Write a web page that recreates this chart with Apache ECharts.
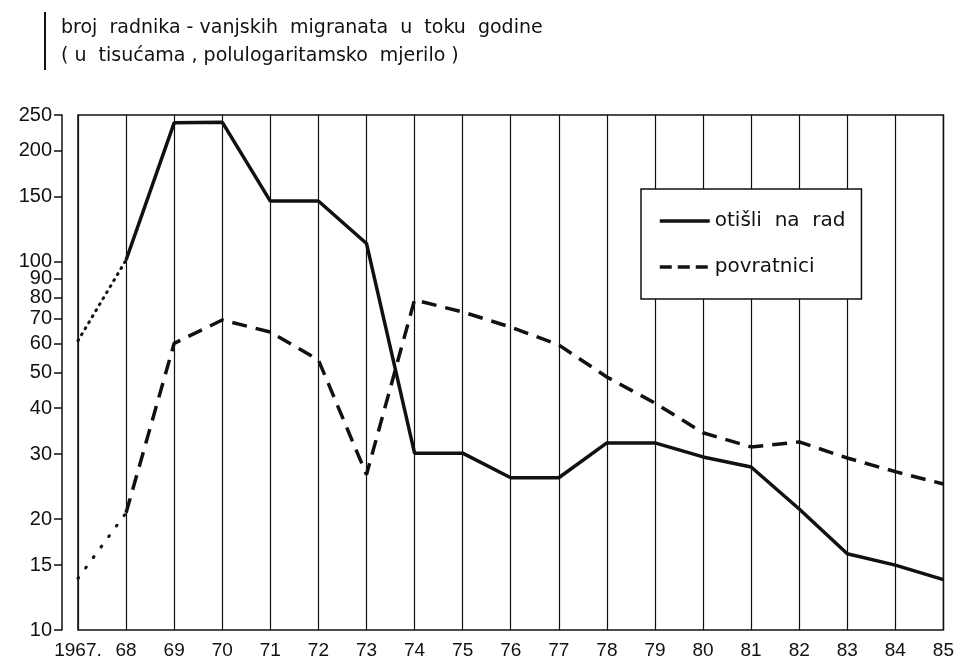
<!DOCTYPE html>
<html>
<head>
<meta charset="utf-8">
<script src="https://cdn.jsdelivr.net/npm/echarts@6/dist/echarts.min.js"></script>
<style>
  html, body { margin: 0; padding: 0; background: #fff; }
  #chart { width: 957px; height: 662px; }
</style>
</head>
<body>
<div id="chart"></div>
<script>
// godine (x os)
const years = ["1967.", "68", "69", "70", "71", "72", "73", "74", "75", "76",
  "77", "78", "79", "80", "81", "82", "83", "84", "85"];
// otišli na rad (u tisućama)
const otisli = [61, 101, 238, 239, 146, 146, 112, 30.2, 30.2, 25.9,
  25.9, 32.2, 32.2, 29.5, 27.7, 21.3, 16.1, 15.0, 13.7];
// povratnici (u tisućama)
const povratnici = [13.8, 20.8, 60, 69.4, 64.4, 54.1, 26.4, 78.7, 73, 66.4,
  59.4, 48.6, 41.3, 34.3, 31.4, 32.4, 29.3, 26.9, 24.9];
// oznake na y osi
const yTicks = [10, 15, 20, 30, 40, 50, 60, 70, 80, 90, 100, 150, 200, 250];

const ink = "#111";
const font = "'Liberation Sans', sans-serif";
const textFont = "'DejaVu Sans', sans-serif";
const dash = [15, 9];

// prvi odsječak (1967-68) je točkast
const dotPart = (arr) => arr.map((v, i) => (i <= 1 ? v : "-"));
const mainPart = (arr) => arr.map((v, i) => (i >= 1 ? v : "-"));

const chart = echarts.init(document.getElementById("chart"));
chart.setOption({
  animation: false,
  backgroundColor: "#fff",
  title: {
    text: "broj  radnika - vanjskih  migranata  u  toku  godine\n( u  tisućama , polulogaritamsko  mjerilo )",
    left: 56,
    top: 9,
    textStyle: {
      fontFamily: textFont,
      fontSize: 19,
      fontWeight: "normal",
      color: ink,
      lineHeight: 28,
    },
  },
  graphic: [
    {
      type: "rect",
      shape: { x: 44, y: 12, width: 2, height: 58 },
      style: { fill: ink },
    },
  ],
  legend: {
    orient: "vertical",
    left: 641,
    top: 189,
    padding: [22, 16, 22, 17],
    itemGap: 26,
    itemWidth: 50,
    itemHeight: 20,
    backgroundColor: "#fff",
    borderColor: ink,
    borderWidth: 1.5,
    borderRadius: 0,
    itemStyle: { opacity: 0 },
    data: [
      { name: "otišli na rad", lineStyle: { color: ink, width: 3.5, type: "solid" } },
      { name: "povratnici", lineStyle: { color: ink, width: 3.5, type: [12, 6] } },
    ],
    formatter: (name) => name.replace(/ /g, "  "),
    textStyle: { fontFamily: textFont, fontSize: 20, color: ink },
  },
  grid: {
    left: 78,
    right: 11,
    top: 115,
    bottom: 32,
    show: true,
    borderColor: ink,
    borderWidth: 1.5,
    backgroundColor: "transparent",
  },
  xAxis: {
    type: "category",
    data: years,
    boundaryGap: false,
    axisLine: { show: false },
    axisTick: { show: false },
    axisLabel: {
      interval: 0,
      color: ink,
      fontFamily: font,
      fontSize: 19,
      margin: 11,
    },
    splitLine: {
      show: true,
      interval: 0,
      lineStyle: { color: ink, width: 1.2 },
    },
  },
  yAxis: {
    type: "log",
    logBase: 10,
    min: 10,
    max: 250,
    offset: 16,
    axisLine: { show: true, lineStyle: { color: ink, width: 1.5 } },
    axisTick: {
      show: true,
      length: 8,
      customValues: yTicks,
      lineStyle: { color: ink, width: 1.5 },
    },
    axisLabel: {
      color: ink,
      fontFamily: font,
      fontSize: 20,
      margin: 10,
      customValues: yTicks,
    },
    splitLine: { show: false },
  },
  series: [
    {
      name: "otišli na rad",
      type: "line",
      data: mainPart(otisli),
      symbol: "none",
      lineStyle: { color: ink, width: 3.5 },
      itemStyle: { color: ink },
      z: 3,
    },
    {
      name: "povratnici",
      type: "line",
      data: mainPart(povratnici),
      symbol: "none",
      lineStyle: { color: ink, width: 3.5, type: dash },
      itemStyle: { color: ink },
      z: 3,
    },
    {
      name: "otisli-tocke",
      type: "line",
      data: dotPart(otisli),
      symbol: "none",
      lineStyle: { color: ink, width: 3, type: [1, 6], cap: "round" },
    },
    {
      name: "povratnici-tocke",
      type: "line",
      data: dotPart(povratnici),
      symbol: "none",
      lineStyle: { color: ink, width: 3, type: [1, 12], cap: "round" },
    },
  ],
});
</script>
</body>
</html>
